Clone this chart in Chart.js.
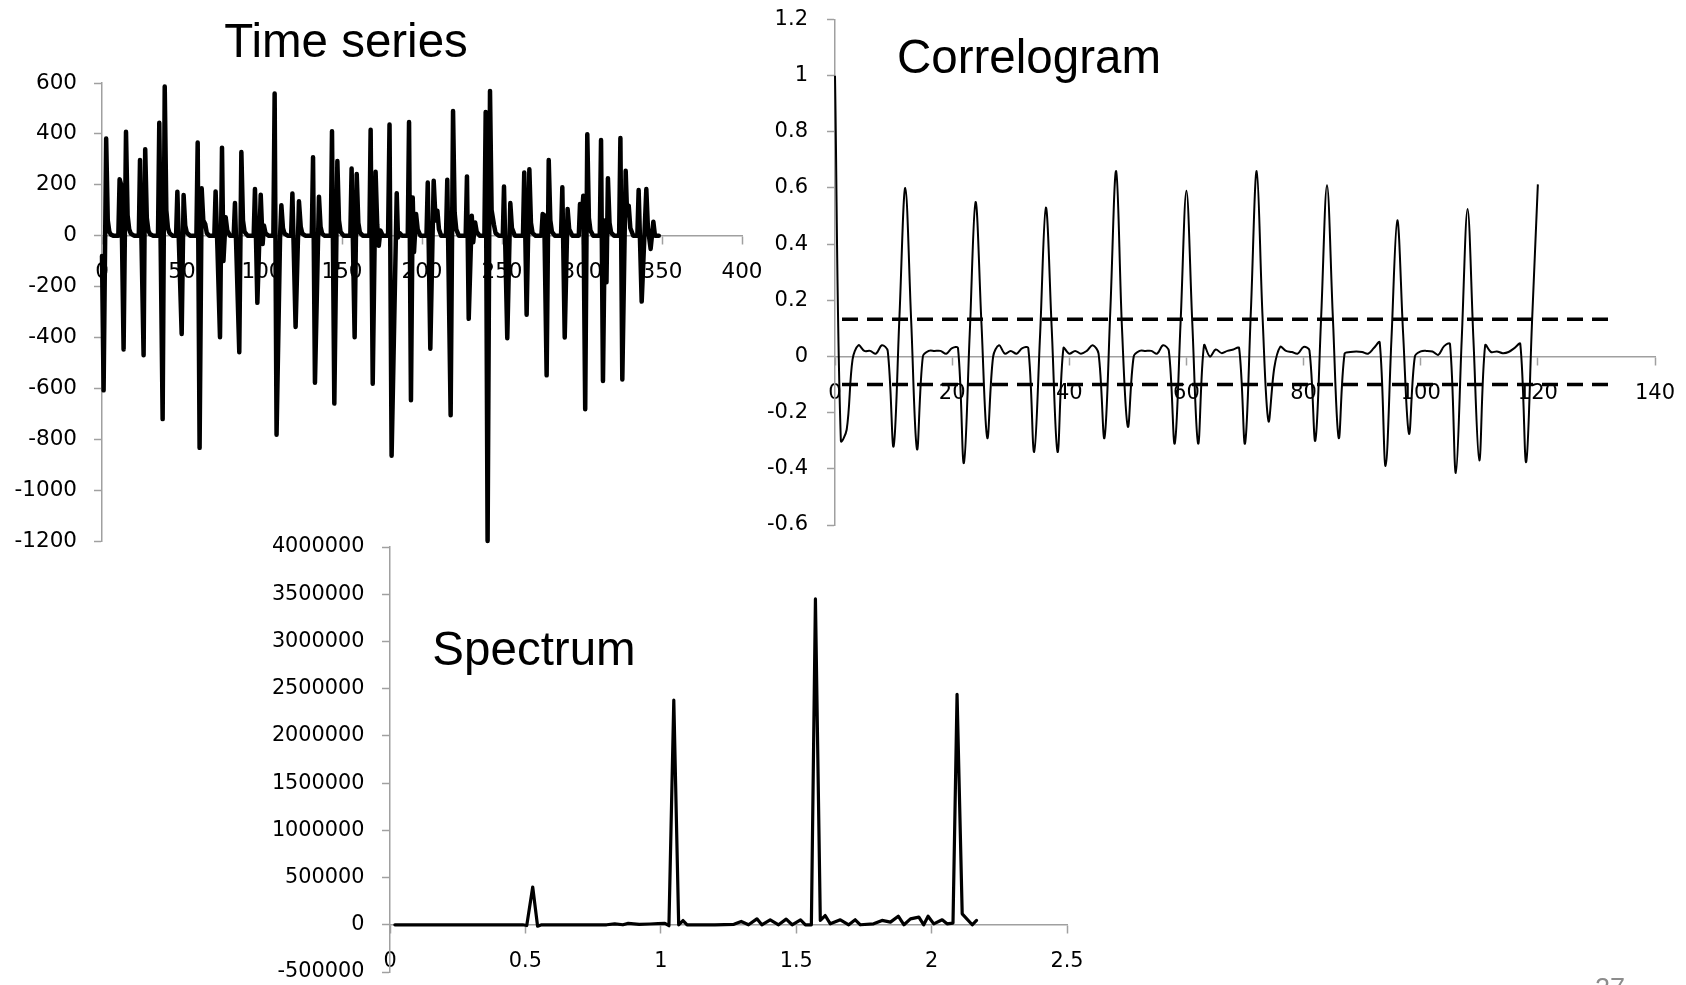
<!DOCTYPE html>
<html lang="en">
<head>
<meta charset="UTF-8" />
<title>Time series, correlogram and spectrum</title>
<script src="https://cdn.jsdelivr.net/npm/chart.js"></script>
<style>
  html, body { margin: 0; padding: 0; background: #fff; width: 1686px; height: 985px; overflow: hidden; position: relative; }
  /* canvases overhang the page by 50px on every side so tick padding never squeezes the plots */
  canvas { position: absolute; left: -50px; top: -50px; }
  .title {
    position: absolute; font-family: "Liberation Sans", Arial, sans-serif; font-size: 47.5px;
    line-height: 1; white-space: nowrap; color: #000; transform: translateX(-50%);
  }
  #pageNo { position: absolute; left: 1595px; top: 975px; font-family: "Liberation Sans", Arial, sans-serif;
    font-size: 27px; line-height: 1; color: #8c8c8c; }
</style>
</head>
<body>

<canvas id="tsChart" width="1786" height="1085"></canvas>
<canvas id="corrChart" width="1786" height="1085"></canvas>
<canvas id="specChart" width="1786" height="1085"></canvas>

<div class="title" style="left:346px; top:17px;">Time series</div>
<div class="title" style="left:1029px; top:33px;">Correlogram</div>
<div class="title" style="left:534px; top:625px;">Spectrum</div>
<div id="pageNo">27</div>

<script>
// ---- time series (vertices) ----
const tsT = [
  0, 1, 2.6, 3.6, 4.6, 5.6, 7,
  10.2, 11, 12, 13.5, 15, 16, 17, 18, 20,
  23, 23.75, 26, 27, 28, 29, 30, 32,
  35, 35.8, 37.9, 39.2, 40.2, 41.2, 42.2, 44,
  46.3, 47.1, 49.8, 51, 52, 53, 55,
  59, 59.8, 61, 62.3, 63.3, 64.5, 65.5, 67,
  70.2, 71, 72.2, 73.75, 75, 75.9, 77.3, 78.3, 80,
  82.3, 83.1, 85.8, 87.1, 88.1, 89.1, 91,
  94.8, 95.6, 97.1, 99.2, 100.4, 101.2, 102.2, 104,
  107.1, 107.9, 109.1, 111.3, 112.1, 113.1, 114.1, 116,
  118.2, 119, 121, 123.1, 124.2, 125.2, 127,
  131.1, 131.9, 133.1, 135.6, 136.6, 137.6, 139,
  143, 143.75, 145.2, 147.1, 148.1, 149.1, 151,
  155.2, 156, 157.9, 159.2, 160.2, 161.2, 163,
  167.1, 167.9, 169.2, 171, 172, 173, 174, 175.5,
  178.8, 179.7, 181, 184.2, 185, 186, 187.5,
  191.1, 191.9, 193.1, 194.2, 195, 196.3, 197.3, 199,
  202.8, 203.6, 205.2, 207.3, 208.5, 209.6, 210.6, 212,
  215, 215.8, 217.9, 219.4, 220.4, 221.4, 223,
  227.3, 228.1, 229.2, 231.1, 232, 233.2, 234.2, 236,
  239, 239.8, 241, 242.5, 243.5, 245, 246, 248,
  250.5, 251.25, 253.3, 255.2, 256.2, 258,
  263.1, 263.9, 265.4, 267.1, 268.1, 269.1, 271,
  274.6, 275.4, 276.4, 277.9, 279.2, 280.2, 281.2, 283,
  286.9, 287.7, 289.2, 291, 292, 294,
  298, 298.75, 299.8, 300.8, 302, 303.3, 304.3, 305.3, 307,
  311.1, 311.9, 313.1, 314.3, 315.3, 316.2, 317.2, 318.2, 320,
  323.2, 324, 325.2, 327.3, 328.2, 329.2, 330.2, 332,
  334.6, 335.4, 337.3, 340.2, 341.2, 342.9, 344.6, 345.6, 348
];
const tsV = [
  -80, -608, 382, 60, 15, 4, 0,
  0, 222, 200, -447, 408, 80, 25, 8, 0,
  0, 297, -470, 340, 70, 20, 6, 0,
  0, 444, -721, 586, 100, 30, 10, 0,
  0, 173, -386, 160, 40, 12, 0,
  0, 366, -834, 186, 60, 46, 10, 0,
  0, 174, -60, -399, 346, -100, 72, 20, 0,
  0, 128, -458, 329, 60, 15, 0,
  0, 183, -264, 161, -33, 40, 10, 0,
  0, 559, -782, 0, 120, 30, 8, 0,
  0, 166, -359, 135, 35, 8, 0,
  0, 308, -578, 153, 35, 8, 0,
  0, 410, -660, 293, 60, 15, 0,
  0, 264, -399, 242, 50, 12, 0,
  0, 416, -582, 251, 45, -40, 20, 0,
  0, 437, -865, 167, -7, 10, 0,
  0, 447, -647, 150, -65, 85, 25, 0,
  0, 209, -444, 216, 60, 98, 25, 0,
  0, 220, -706, 490, 90, 25, 0,
  0, 233, -327, 78, -26, 52, 15, 0,
  0, 486, -1200, 569, 100, 42, 10, 0,
  0, 193, -403, 128, 30, 0,
  0, 248, -311, 261, 50, 10, 0,
  0, 85, 80, -549, 297, 60, 15, 0,
  0, 190, -400, 105, 25, 0,
  0, 124, 60, 157, -682, 399, 70, 20, 0,
  0, 376, -571, 60, -183, 226, 50, 12, 0,
  0, 384, -565, 255, 80, 118, 30, 0,
  0, 179, -259, 183, 30, -52, 55, 0, 0
];
const tsXTicks = [0, 400, 50];
const tsYTicks = [-1200, 600, 200];

// ---- correlogram, lags 0..120 ----
const lags = Array.from({ length: 121 }, (_, i) => i);
const acf = [
  1.0, -0.30, -0.26, -0.01, 0.04, 0.02, 0.02, 0.01, 0.04, 0.02,
  -0.32, 0.14, 0.60, 0.13, -0.33, 0.0, 0.02, 0.02, 0.02, 0.01,
  0.03, 0.03, -0.38, 0.08, 0.55, 0.12, -0.29, 0.0, 0.04, 0.01,
  0.02, 0.01, 0.03, 0.03, -0.34, 0.07, 0.53, 0.10, -0.34, 0.03,
  0.01, 0.02, 0.01, 0.02, 0.04, 0.01, -0.29, 0.16, 0.66, 0.10,
  -0.25, 0.0, 0.02, 0.02, 0.02, 0.01, 0.04, 0.02, -0.31, 0.12,
  0.59, 0.12, -0.31, 0.04, 0.0, 0.025, 0.012, 0.02, 0.025, 0.03,
  -0.31, 0.16, 0.66, 0.14, -0.23, -0.04, 0.034, 0.02, 0.016, 0.01,
  0.034, 0.022, -0.30, 0.14, 0.61, 0.14, -0.29, 0.01, 0.016, 0.018,
  0.016, 0.01, 0.03, 0.05, -0.39, 0.06, 0.485, 0.08, -0.275, 0.0,
  0.018, 0.02, 0.018, 0.006, 0.037, 0.045, -0.415, 0.06, 0.525, 0.06,
  -0.37, 0.04, 0.016, 0.018, 0.012, 0.016, 0.03, 0.045, -0.376, 0.12,
  0.613
];
const bandX = [1.2, 132.8];
const upperBand = [0.133, 0.133];
const lowerBand = [-0.1, -0.1];
const corrXTicks = [0, 140, 20];
const corrYTicks = [-0.6, 1.2, 0.2];

// ---- spectrum (vertices) ----
const freq = [
  0.018, 0.49, 0.505, 0.527, 0.545, 0.56, 0.8, 0.83, 0.86, 0.88, 0.92, 0.96, 0.99, 1.015, 1.03,
  1.048, 1.066, 1.082, 1.097, 1.2, 1.27, 1.297, 1.324, 1.355, 1.373, 1.404, 1.435, 1.463, 1.485,
  1.516, 1.534, 1.556, 1.571, 1.589, 1.607, 1.626, 1.663, 1.694, 1.718, 1.737, 1.786, 1.817,
  1.848, 1.877, 1.898, 1.922, 1.953, 1.971, 1.987, 2.008, 2.039, 2.057, 2.079, 2.094, 2.113,
  2.150, 2.166
];
const power = [
  0, 0, -8000, 400000, -15000, 0, 0, 10000, 0, 15000, 5000, 8000, 12000, 15000, -10000,
  2380000, 0, 45000, 0, 0, 5000, 35000, 0, 63000, 0, 53000, 0, 60000, 0,
  53000, 0, 0, 3450000, 46000, 98000, 10000, 53000, 0, 53000, 0, 10000, 46000,
  28000, 91000, 0, 63000, 81000, 0, 91000, 10000, 53000, 10000, 18000, 2440000, 116000,
  0, 46000
];
const specXTicks = [0, 2.5, 0.5];
const specYTicks = [-500000, 4000000, 500000];

const AXIS = '#a0a0a0';
const pts = (xs, ys) => xs.map((x, i) => ({ x: x, y: ys[i] }));

function xAxis(t, size, fmt) {
  return {
    type: 'linear', position: { y: 0 }, min: t[0], max: t[1],
    ticks: { stepSize: t[2], color: '#000', padding: 16, maxRotation: 0, autoSkip: false,
      font: { family: 'DejaVu Sans', size: size }, callback: fmt },
    grid: { drawOnChartArea: false, drawTicks: true, tickLength: 8, color: AXIS, tickWidth: 1.5 },
    border: { display: true, color: AXIS, width: 1.5 }
  };
}
function yAxis(t, size, pad, fmt) {
  return {
    type: 'linear', position: 'left', min: t[0], max: t[1],
    afterFit: s => { s.width = 150; },
    ticks: { stepSize: t[2], color: '#000', padding: pad, autoSkip: false,
      font: { family: 'DejaVu Sans', size: size }, callback: fmt },
    grid: { drawOnChartArea: false, drawTicks: true, tickLength: 8, color: AXIS, tickWidth: 1.5 },
    border: { display: true, color: AXIS, width: 1.5 }
  };
}
const plain = v => String(v);
const oneDec = v => String(Number(v.toFixed(1)));

const common = {
  responsive: false, animation: false, events: [],
  plugins: { legend: { display: false }, tooltip: { enabled: false } },
  elements: { point: { radius: 0 } }
};

// padding = target plot box in page px, shifted by the 50px canvas overhang
new Chart(document.getElementById('tsChart'), {
  type: 'line',
  data: { datasets: [{
    data: pts(tsT, tsV), borderColor: '#000', borderWidth: 4.5, tension: 0,
    borderJoinStyle: 'round', borderCapStyle: 'round', clip: false
  }] },
  options: Object.assign({}, common, {
    layout: { padding: { left: 2, top: 133, right: 994, bottom: 494 } },
    scales: { x: xAxis(tsXTicks, 21.5, plain), y: yAxis(tsYTicks, 21.5, 17, plain) }
  })
});

new Chart(document.getElementById('corrChart'), {
  type: 'line',
  data: { datasets: [
    { data: pts(bandX, upperBand), borderColor: '#000', borderWidth: 3.5, borderDash: [16, 9] },
    { data: pts(bandX, lowerBand), borderColor: '#000', borderWidth: 3.5, borderDash: [16, 9] },
    { data: pts(lags, acf), borderColor: '#000', borderWidth: 2, tension: 0.35,
      borderJoinStyle: 'round', clip: false }
  ] },
  options: Object.assign({}, common, {
    layout: { padding: { left: 735, top: 69.5, right: 81, bottom: 510 } },
    scales: { x: xAxis(corrXTicks, 21, plain), y: yAxis(corrYTicks, 21, 19, oneDec) }
  })
});

new Chart(document.getElementById('specChart'), {
  type: 'line',
  data: { datasets: [{
    data: pts(freq, power), borderColor: '#000', borderWidth: 3.2, tension: 0,
    borderJoinStyle: 'round', borderCapStyle: 'round'
  }] },
  options: Object.assign({}, common, {
    layout: { padding: { left: 290, top: 597, right: 669, bottom: 63 } },
    scales: { x: xAxis(specXTicks, 20.8, oneDec), y: yAxis(specYTicks, 20.8, 17.5, plain) }
  })
});
</script>
</body>
</html>
